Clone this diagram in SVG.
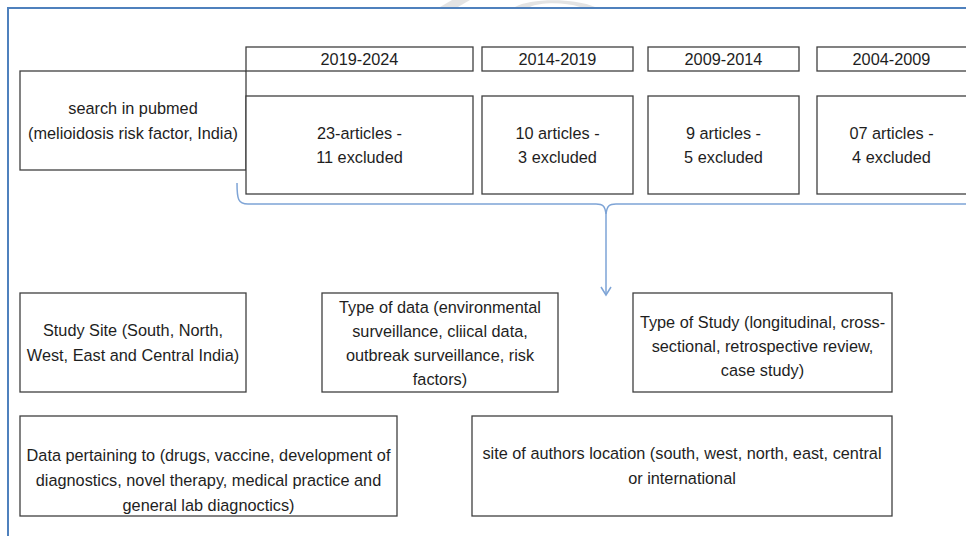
<svg xmlns="http://www.w3.org/2000/svg" width="966" height="536" viewBox="0 0 966 536">
<style>
.box{fill:#fff;stroke:#3f3f3f;stroke-width:1.3}
.t{font-family:"Liberation Sans",Arial,sans-serif;font-size:16.3px;fill:#1e1e1e;text-anchor:middle}
.conn{fill:none;stroke:#7ea4d6;stroke-width:1.5}
</style>
<rect width="966" height="536" fill="#fff"/>
<g id="watermark" fill="#dcdcdc" opacity="0.8">
<path d="M440,7 L452,0 L470,0 L458,7 Z"/>
<path d="M515,7 C530,-2 575,-2 595,7 L580,7 C565,2 540,2 530,7 Z"/>
</g>
<g id="frame" fill="none" stroke="#4f81bd" stroke-width="2">
<path d="M8,536 V8 H966"/>
</g>
<g id="search">
<rect class="box" x="20" y="71" width="226" height="99"/>
<text class="t" x="133" y="114">search in pubmed</text>
<text class="t" x="133" y="139">(melioidosis risk factor, India)</text>
</g>
<g id="h2019">
<rect class="box" x="246" y="47" width="227" height="24"/>
<text class="t" x="359.5" y="65">2019-2024</text>
</g>
<g id="d2019">
<rect class="box" x="246" y="96" width="227" height="98"/>
<text class="t" x="359.5" y="139">23-articles -</text>
<text class="t" x="359.5" y="163">11 excluded</text>
</g>
<g id="h2014">
<rect class="box" x="482" y="47" width="151" height="24"/>
<text class="t" x="557.5" y="65">2014-2019</text>
</g>
<g id="d2014">
<rect class="box" x="482" y="96" width="151" height="98"/>
<text class="t" x="557.5" y="139">10 articles -</text>
<text class="t" x="557.5" y="163">3 excluded</text>
</g>
<g id="h2009">
<rect class="box" x="648" y="47" width="151" height="24"/>
<text class="t" x="723.5" y="65">2009-2014</text>
</g>
<g id="d2009">
<rect class="box" x="648" y="96" width="151" height="98"/>
<text class="t" x="723.5" y="139">9 articles -</text>
<text class="t" x="723.5" y="163">5 excluded</text>
</g>
<g id="h2004">
<rect class="box" x="817" y="47" width="152" height="24"/>
<text class="t" x="891.5" y="65">2004-2009</text>
</g>
<g id="d2004">
<rect class="box" x="817" y="96" width="152" height="98"/>
<text class="t" x="891.5" y="139">07 articles -</text>
<text class="t" x="891.5" y="163">4 excluded</text>
</g>
<g id="connectors">
<path class="conn" d="M237,183 C237,199 238,204 248,204 L596,204 C603,204 605,206 606,214 L606,294"/>
<path class="conn" d="M966,204 L616,204 C609,204 607,206 606,214"/>
<path class="conn" d="M601,287 L606,295 L611,287"/>
</g>
<g id="studysite">
<rect class="box" x="20" y="293" width="226" height="99"/>
<text class="t" x="133" y="336">Study Site (South, North,</text>
<text class="t" x="133" y="361">West, East and Central India)</text>
</g>
<g id="typedata">
<rect class="box" x="322" y="293" width="236" height="99"/>
<text class="t" x="440" y="313">Type of data (environmental</text>
<text class="t" x="440" y="337">surveillance, cliical data,</text>
<text class="t" x="440" y="361">outbreak surveillance, risk</text>
<text class="t" x="440" y="385">factors)</text>
</g>
<g id="typestudy">
<rect class="box" x="633" y="293" width="259" height="99"/>
<text class="t" x="762.5" y="328">Type of Study (longitudinal, cross-</text>
<text class="t" x="762.5" y="352">sectional, retrospective review,</text>
<text class="t" x="762.5" y="376">case study)</text>
</g>
<g id="datapertaining">
<rect class="box" x="20" y="416" width="377" height="100"/>
<text class="t" x="208.5" y="461">Data pertaining to (drugs, vaccine, development of</text>
<text class="t" x="208.5" y="486">diagnostics, novel therapy, medical practice and</text>
<text class="t" x="208.5" y="511">general lab diagnoctics)</text>
</g>
<g id="authors">
<rect class="box" x="472" y="416" width="420" height="100"/>
<text class="t" x="682" y="459">site of authors location (south, west, north, east, central</text>
<text class="t" x="682" y="484">or international</text>
</g>
</svg>
